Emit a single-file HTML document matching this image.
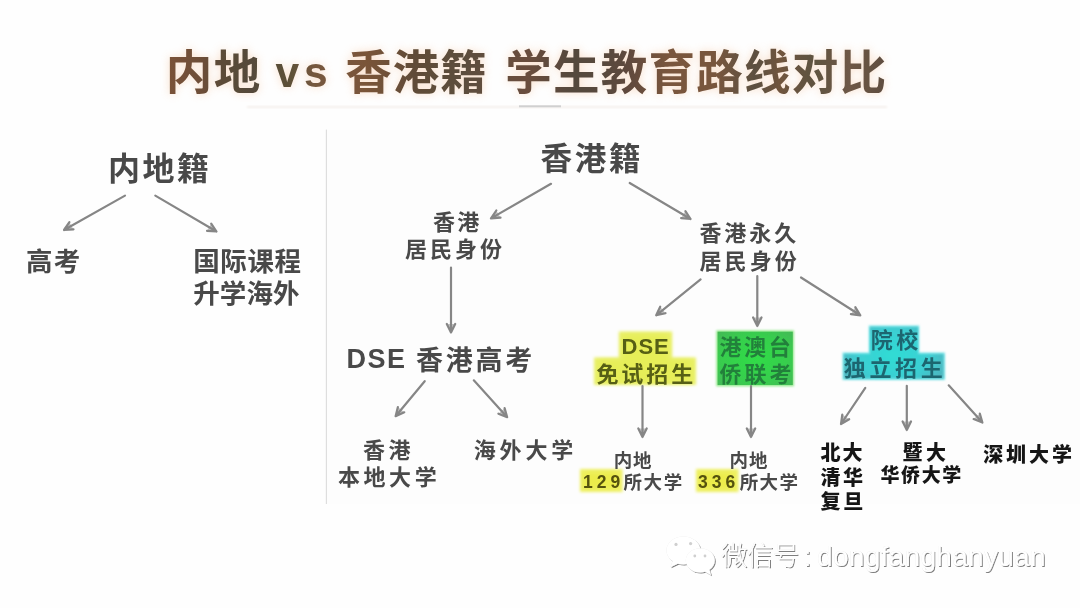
<!DOCTYPE html>
<html lang="zh"><head><meta charset="utf-8"><title>内地 vs 香港籍 学生教育路线对比</title>
<style>
html,body{margin:0;padding:0;background:#fefefe;}
body{width:1080px;height:608px;position:relative;overflow:hidden;font-family:"Liberation Sans",sans-serif;}
#art{position:absolute;left:0;top:0;width:1080px;height:608px;display:block;}
#txt{position:absolute;left:0;top:0;width:1080px;height:608px;color:transparent;}
#txt span{position:absolute;white-space:nowrap;line-height:1;color:transparent;}
#art text{font-family:"Liberation Sans","Noto Sans CJK SC",sans-serif;white-space:pre;}
#art .b{font-weight:700;}
#art .k{font-weight:900;}
#art .l{font-weight:300;}
</style></head><body>

<svg id="art" width="1080" height="608" viewBox="0 0 1080 608">
<defs><linearGradient id="tg" gradientUnits="userSpaceOnUse" x1="166" y1="0" x2="882" y2="0"><stop offset="0.0000" stop-color="#7b5238"/><stop offset="0.0531" stop-color="#6c4e38"/><stop offset="0.0684" stop-color="#5e4c38"/><stop offset="0.1201" stop-color="#554a3a"/><stop offset="0.1704" stop-color="#5c5038"/><stop offset="0.2081" stop-color="#76583e"/><stop offset="0.2793" stop-color="#7a5439"/><stop offset="0.3464" stop-color="#604c38"/><stop offset="0.4134" stop-color="#5c4e3c"/><stop offset="0.5042" stop-color="#6a4e3e"/><stop offset="0.5698" stop-color="#54483e"/><stop offset="0.6369" stop-color="#5c483c"/><stop offset="0.7025" stop-color="#7a563c"/><stop offset="0.7682" stop-color="#78563e"/><stop offset="0.8226" stop-color="#5c5040"/><stop offset="0.8575" stop-color="#70543e"/><stop offset="0.9022" stop-color="#5f5340"/><stop offset="0.9553" stop-color="#6e5846"/><stop offset="1.0000" stop-color="#604e40"/></linearGradient>
<filter id="b1" x="-20%" y="-20%" width="140%" height="140%"><feGaussianBlur stdDeviation="1.2"/></filter>
<radialGradient id="gg" cx="0.5" cy="0.5" r="0.75"><stop offset="0" stop-color="#2fdc47"/><stop offset="0.6" stop-color="#38cd4e"/><stop offset="1" stop-color="#46b457"/></radialGradient>
<radialGradient id="cg" gradientUnits="userSpaceOnUse" cx="893" cy="355" r="58" gradientTransform="translate(0 355) scale(1 0.7) translate(0 -355)"><stop offset="0" stop-color="#2fdcd4"/><stop offset="0.6" stop-color="#3ccfd3"/><stop offset="1" stop-color="#4fb3bd"/></radialGradient>
<filter id="b15" x="-20%" y="-20%" width="140%" height="140%"><feGaussianBlur stdDeviation="1.4"/></filter>
<filter id="b2" x="-20%" y="-20%" width="140%" height="140%"><feGaussianBlur stdDeviation="2.2"/></filter>
<filter id="glow" x="-5%" y="-30%" width="110%" height="160%"><feGaussianBlur stdDeviation="4"/></filter>
<filter id="soft" x="-5%" y="-5%" width="110%" height="110%"><feGaussianBlur stdDeviation="0.55"/></filter>
<filter id="ds" x="-5%" y="-20%" width="110%" height="140%"><feMorphology in="SourceAlpha" operator="dilate" radius="0.45" result="d"/><feGaussianBlur in="d" stdDeviation="0.35" result="db"/><feFlood flood-color="#000" flood-opacity="0.24"/><feComposite in2="db" operator="in" result="ol"/><feOffset in="SourceAlpha" dx="1" dy="1" result="o"/><feGaussianBlur in="o" stdDeviation="0.45" result="ob"/><feFlood flood-color="#000" flood-opacity="0.5"/><feComposite in2="ob" operator="in" result="sh"/><feMerge><feMergeNode in="ol"/><feMergeNode in="sh"/><feMergeNode in="SourceGraphic"/></feMerge></filter>
</defs>
<rect width="1080" height="608" fill="#fefefe"/>
<rect x="327" y="130" width="753" height="374" fill="#fcfcfc" opacity="0.8"/>
<g filter="url(#glow)" opacity="0.4"><g fill="#f3b585" stroke="#f3b585" stroke-width="0.6" stroke-linejoin="round" class="b">
<text x="165.8" y="88.72" font-size="46.5" letter-spacing="1.36">内地</text>
<text x="275.6" y="86.5" font-size="42.5" letter-spacing="4.88">vs</text>
<text x="345.3" y="88.79" font-size="46.5" letter-spacing="0.95">香港籍</text>
<text x="505.2" y="88.88" font-size="46.5" letter-spacing="1.28">学生教育路线对比</text>
</g></g>
<rect x="247" y="106" width="640" height="2" fill="#f4f0eb" filter="url(#b1)"/>
<rect x="519" y="105.3" width="42" height="2" fill="#d0d0d0" filter="url(#soft)"/>
<rect x="325.8" y="129.6" width="1.2" height="374.4" fill="#dedede"/>
<g filter="url(#b15)">
<path d="M618.8 331.5H672.2V357.5H696V385H594V357.5H618.8Z" fill="#e9f068"/>
<rect x="580" y="469" width="42.5" height="23" fill="#eef065"/>
<rect x="696" y="469" width="42.5" height="23" fill="#eef065"/>
</g>
<g filter="url(#b2)">
<path d="M623 335H668V360H691V381.500H599V360H623Z" fill="#e6ee58"/>
<rect x="584" y="473" width="33" height="15" fill="#ecec4c"/>
<rect x="700" y="473" width="33" height="15" fill="#ecec4c"/>
</g>
<rect x="716.3" y="330.4" width="77.6" height="55.9" fill="#8ee887" filter="url(#b1)"/>
<rect x="717.6" y="331.7" width="75.2" height="53.3" fill="url(#gg)" filter="url(#soft)"/>
<path d="M868.75 325.5H919.25V352.5H945V380H842.5V352.5H868.75Z" fill="#7fe6ea" filter="url(#b1)"/>
<path d="M870 327H918V354H943.5V378.5H844V354H870Z" fill="url(#cg)" filter="url(#b1)"/>
<g filter="url(#soft)">
<path d="M69.4 222.2L64.0 230.0L73.5 229.4Z" fill="#868686" fill-opacity="0.5"/><path d="M125.0 195.6L64.0 230.0M69.4 222.2L64.0 230.0L73.5 229.4" fill="none" stroke="#868686" stroke-width="2.2" stroke-linecap="round" stroke-linejoin="round"/>
<path d="M207.0 230.8L216.5 231.5L211.2 223.6Z" fill="#868686" fill-opacity="0.5"/><path d="M155.3 195.6L216.5 231.5M207.0 230.8L216.5 231.5L211.2 223.6" fill="none" stroke="#868686" stroke-width="2.2" stroke-linecap="round" stroke-linejoin="round"/>
<path d="M496.3 210.5L491.0 218.4L500.5 217.7Z" fill="#868686" fill-opacity="0.5"/><path d="M551.0 183.8L491.0 218.4M496.3 210.5L491.0 218.4L500.5 217.7" fill="none" stroke="#868686" stroke-width="2.2" stroke-linecap="round" stroke-linejoin="round"/>
<path d="M681.1 218.2L690.6 219.0L685.4 211.1Z" fill="#868686" fill-opacity="0.5"/><path d="M629.7 183.0L690.6 219.0M681.1 218.2L690.6 219.0L685.4 211.1" fill="none" stroke="#868686" stroke-width="2.2" stroke-linecap="round" stroke-linejoin="round"/>
<path d="M446.8 324.0L451.0 332.5L455.2 324.0Z" fill="#868686" fill-opacity="0.5"/><path d="M451.0 267.5L451.0 332.5M446.8 324.0L451.0 332.5L455.2 324.0" fill="none" stroke="#868686" stroke-width="2.2" stroke-linecap="round" stroke-linejoin="round"/>
<path d="M397.9 407.0L395.6 416.2L404.3 412.3Z" fill="#868686" fill-opacity="0.5"/><path d="M424.7 381.2L395.6 416.2M397.9 407.0L395.6 416.2L404.3 412.3" fill="none" stroke="#868686" stroke-width="2.2" stroke-linecap="round" stroke-linejoin="round"/>
<path d="M498.4 413.7L507.2 417.2L504.6 408.1Z" fill="#868686" fill-opacity="0.5"/><path d="M473.8 380.3L507.2 417.2M498.4 413.7L507.2 417.2L504.6 408.1" fill="none" stroke="#868686" stroke-width="2.2" stroke-linecap="round" stroke-linejoin="round"/>
<path d="M660.2 306.7L656.2 315.3L665.5 313.2Z" fill="#868686" fill-opacity="0.5"/><path d="M700.6 279.4L656.2 315.3M660.2 306.7L656.2 315.3L665.5 313.2" fill="none" stroke="#868686" stroke-width="2.2" stroke-linecap="round" stroke-linejoin="round"/>
<path d="M753.1 317.5L757.3 326.0L761.5 317.5Z" fill="#868686" fill-opacity="0.5"/><path d="M757.3 276.0L757.3 326.0M753.1 317.5L757.3 326.0L761.5 317.5" fill="none" stroke="#868686" stroke-width="2.2" stroke-linecap="round" stroke-linejoin="round"/>
<path d="M850.9 314.2L860.3 315.3L855.3 307.2Z" fill="#868686" fill-opacity="0.5"/><path d="M801.0 277.5L860.3 315.3M850.9 314.2L860.3 315.3L855.3 307.2" fill="none" stroke="#868686" stroke-width="2.2" stroke-linecap="round" stroke-linejoin="round"/>
<path d="M638.3 428.5L642.5 437.0L646.7 428.5Z" fill="#868686" fill-opacity="0.5"/><path d="M642.5 386.0L642.5 437.0M638.3 428.5L642.5 437.0L646.7 428.5" fill="none" stroke="#868686" stroke-width="2.2" stroke-linecap="round" stroke-linejoin="round"/>
<path d="M746.8 428.5L751.0 437.0L755.2 428.5Z" fill="#868686" fill-opacity="0.5"/><path d="M751.0 386.0L751.0 437.0M746.8 428.5L751.0 437.0L755.2 428.5" fill="none" stroke="#868686" stroke-width="2.2" stroke-linecap="round" stroke-linejoin="round"/>
<path d="M842.3 414.6L841.0 424.0L849.2 419.2Z" fill="#868686" fill-opacity="0.5"/><path d="M865.3 387.9L841.0 424.0M842.3 414.6L841.0 424.0L849.2 419.2" fill="none" stroke="#868686" stroke-width="2.2" stroke-linecap="round" stroke-linejoin="round"/>
<path d="M902.6 421.5L906.8 430.0L911.0 421.5Z" fill="#868686" fill-opacity="0.5"/><path d="M906.8 385.8L906.8 430.0M902.6 421.5L906.8 430.0L911.0 421.5" fill="none" stroke="#868686" stroke-width="2.2" stroke-linecap="round" stroke-linejoin="round"/>
<path d="M973.6 419.1L982.4 422.6L979.8 413.5Z" fill="#868686" fill-opacity="0.5"/><path d="M948.7 385.3L982.4 422.6M973.6 419.1L982.4 422.6L979.8 413.5" fill="none" stroke="#868686" stroke-width="2.2" stroke-linecap="round" stroke-linejoin="round"/>
</g>
<g filter="url(#soft)">
<g fill="url(#tg)" class="b">
<text x="165.8" y="88.72" font-size="46.5" letter-spacing="1.36">内地</text>
<text x="275.6" y="86.5" font-size="42.5" letter-spacing="4.88">vs</text>
<text x="345.3" y="88.79" font-size="46.5" letter-spacing="0.95">香港籍</text>
<text x="505.2" y="88.88" font-size="46.5" letter-spacing="1.28">学生教育路线对比</text>
</g>
<g fill="#4a4a4a" class="b">
<text x="108.0" y="179.68" font-size="32" letter-spacing="2.51">内地籍</text>
<text x="26.0" y="271.38" font-size="26.5" letter-spacing="1.32">高考</text>
<text x="193.2" y="271.14" font-size="26.5" letter-spacing="0.61">国际课程</text>
<text x="193.2" y="303.28" font-size="26.5" letter-spacing="0.13">升学海外</text>
<text x="540.5" y="170.42" font-size="31.6" letter-spacing="2.65">香港籍</text>
<text x="433.0" y="229.65" font-size="22" letter-spacing="2.15">香港</text>
<text x="405.0" y="256.72" font-size="22" letter-spacing="3.01">居民身份</text>
<text x="699.4" y="241.45" font-size="22" letter-spacing="2.97">香港永久</text>
<text x="699.4" y="268.52" font-size="22" letter-spacing="3.13">居民身份</text>
<text x="346.6" y="368.4" font-size="27" letter-spacing="1.5">DSE</text>
<text x="416.0" y="370.37" font-size="27" letter-spacing="2.71">香港高考</text>
<text x="363.0" y="457.85" font-size="22" letter-spacing="3.55">香港</text>
<text x="338.0" y="484.96" font-size="22" letter-spacing="3.55">本地大学</text>
<text x="473.8" y="457.96" font-size="22" letter-spacing="3.80">海外大学</text>
</g>
<g fill="#565e12" class="b">
<text x="621.5" y="354.05" font-size="22" letter-spacing="1">DSE</text>
<text x="596.4" y="382.30" font-size="22" letter-spacing="2.95">免试招生</text>
</g>
<g fill="#22803a" class="b">
<text x="719.5" y="354.79" font-size="22" letter-spacing="2.58">港澳台</text>
<text x="719.5" y="381.99" font-size="22" letter-spacing="3.01">侨联考</text>
</g>
<g fill="#1f6670" class="b">
<text x="870.8" y="348.48" font-size="22" letter-spacing="3.37">院校</text>
<text x="843.8" y="375.98" font-size="22" letter-spacing="3.64">独立招生</text>
</g>
<g class="b">
<text x="613.8" y="467.21" font-size="18.5" letter-spacing="0.80" fill="#4a4a4a">内地</text>
<text x="583.0" y="487.88" font-size="17.5" letter-spacing="4" fill="#55520f">129</text>
<text x="623.4" y="489.07" font-size="18.5" letter-spacing="1.67" fill="#4a4a4a">所大学</text>
<text x="729.5" y="467.21" font-size="18.5" letter-spacing="1.05" fill="#4a4a4a">内地</text>
<text x="698.0" y="487.88" font-size="17.5" letter-spacing="4" fill="#55520f">336</text>
<text x="739.7" y="489.07" font-size="18.5" letter-spacing="1.42" fill="#4a4a4a">所大学</text>
</g>
<g fill="#181818" class="k">
<text x="820.5" y="460.49" font-size="20" letter-spacing="2.08">北大</text>
<text x="820.5" y="485.11" font-size="20" letter-spacing="2.44">清华</text>
<text x="820.5" y="508.95" font-size="20" letter-spacing="2.72">复旦</text>
<text x="902.6" y="459.64" font-size="20" letter-spacing="3.46">暨大</text>
<text x="880.5" y="481.60" font-size="19" letter-spacing="1.59">华侨大学</text>
<text x="983.2" y="462.34" font-size="20" letter-spacing="2.90">深圳大学</text>
</g>
</g>
<g fill="#fff"><path filter="url(#ds)" d="M683.5 536.5c-9.4 0-17 6.2-17 13.9 0 4.3 2.4 8.1 6.1 10.7l-2.2 6.2 7.4-3.6c1.8 0.4 3.7 0.7 5.700 0.7 9.400 0 17.000-6.200 17.000-13.900s-7.600-14.000-17.000-14.000z"/><path filter="url(#ds)" d="M700.3 548.3c-8 0-14.500 5.400-14.500 12.100s6.500 12.100 14.500 12.100c1.700 0 3.300-0.200 4.800-0.700l6 3.400-1.700-5.400c3.300-2.200 5.400-5.600 5.400-9.400 0-6.700-6.500-12.100-14.500-12.100z"/></g>
<g fill="#cfcfcf"><circle cx="676" cy="544.4" r="1.6"/><circle cx="690.6" cy="543.6" r="1.6"/><circle cx="694.8" cy="556" r="1.4"/><circle cx="705" cy="556" r="1.4"/></g>
<g filter="url(#ds)" fill="#fff">
<text class="l" x="721.0" y="565.03" font-size="26.5" letter-spacing="-0.58">微信号</text>
<text x="803.5" y="566" font-size="28">:</text>
<text x="817.0" y="566" font-size="28" letter-spacing="0.31">dongfanghanyuan</text>
</g>
</svg>
<div id="txt">
<span style="left:165.8px;top:47.8px;font-size:46.5px;letter-spacing:1.36px">内地</span>
<span style="left:275.6px;top:49.1px;font-size:42.5px;letter-spacing:4.88px">vs</span>
<span style="left:345.3px;top:47.9px;font-size:46.5px;letter-spacing:0.95px">香港籍</span>
<span style="left:505.2px;top:48.0px;font-size:46.5px;letter-spacing:1.28px">学生教育路线对比</span>
<span style="left:108.0px;top:151.5px;font-size:32px;letter-spacing:2.51px">内地籍</span>
<span style="left:26.0px;top:248.1px;font-size:26.5px;letter-spacing:1.32px">高考</span>
<span style="left:193.2px;top:247.8px;font-size:26.5px;letter-spacing:0.61px">国际课程</span>
<span style="left:193.2px;top:280.0px;font-size:26.5px;letter-spacing:0.13px">升学海外</span>
<span style="left:540.5px;top:142.6px;font-size:31.6px;letter-spacing:2.65px">香港籍</span>
<span style="left:433.0px;top:210.3px;font-size:22px;letter-spacing:2.15px">香港</span>
<span style="left:405.0px;top:237.4px;font-size:22px;letter-spacing:3.01px">居民身份</span>
<span style="left:699.4px;top:222.1px;font-size:22px;letter-spacing:2.97px">香港永久</span>
<span style="left:699.4px;top:249.2px;font-size:22px;letter-spacing:3.13px">居民身份</span>
<span style="left:346.6px;top:344.6px;font-size:27px;letter-spacing:0.00px">DSE </span>
<span style="left:416.0px;top:346.6px;font-size:27px;letter-spacing:2.71px">香港高考</span>
<span style="left:363.0px;top:438.5px;font-size:22px;letter-spacing:3.55px">香港</span>
<span style="left:338.0px;top:465.6px;font-size:22px;letter-spacing:3.55px">本地大学</span>
<span style="left:473.8px;top:438.6px;font-size:22px;letter-spacing:3.80px">海外大学</span>
<span style="left:621.5px;top:334.7px;font-size:22px;letter-spacing:0.00px">DSE</span>
<span style="left:596.4px;top:362.9px;font-size:22px;letter-spacing:2.95px">免试招生</span>
<span style="left:719.5px;top:335.4px;font-size:22px;letter-spacing:2.58px">港澳台</span>
<span style="left:719.5px;top:362.6px;font-size:22px;letter-spacing:3.01px">侨联考</span>
<span style="left:870.8px;top:329.1px;font-size:22px;letter-spacing:3.37px">院校</span>
<span style="left:843.8px;top:356.6px;font-size:22px;letter-spacing:3.64px">独立招生</span>
<span style="left:613.8px;top:450.9px;font-size:18.5px;letter-spacing:0.80px">内地</span>
<span style="left:583.0px;top:472.5px;font-size:17.5px;letter-spacing:3.93px">129</span>
<span style="left:623.4px;top:472.8px;font-size:18.5px;letter-spacing:1.67px">所大学</span>
<span style="left:729.5px;top:450.9px;font-size:18.5px;letter-spacing:1.05px">内地</span>
<span style="left:698.0px;top:472.5px;font-size:17.5px;letter-spacing:3.61px">336</span>
<span style="left:739.7px;top:472.8px;font-size:18.5px;letter-spacing:1.42px">所大学</span>
<span style="left:820.5px;top:442.9px;font-size:20px;letter-spacing:2.08px">北大</span>
<span style="left:820.5px;top:467.5px;font-size:20px;letter-spacing:2.44px">清华</span>
<span style="left:820.5px;top:491.4px;font-size:20px;letter-spacing:2.72px">复旦</span>
<span style="left:902.6px;top:442.0px;font-size:20px;letter-spacing:3.46px">暨大</span>
<span style="left:880.5px;top:464.9px;font-size:19px;letter-spacing:1.59px">华侨大学</span>
<span style="left:983.2px;top:444.7px;font-size:20px;letter-spacing:2.90px">深圳大学</span>
<span style="left:721.0px;top:541.7px;font-size:26.5px;letter-spacing:-0.58px">微信号</span>
<span style="left:803.5px;top:541.4px;font-size:28px;letter-spacing:0.00px">:</span>
<span style="left:817.0px;top:541.4px;font-size:28px;letter-spacing:0.31px">dongfanghanyuan</span>
</div>
</body></html>
